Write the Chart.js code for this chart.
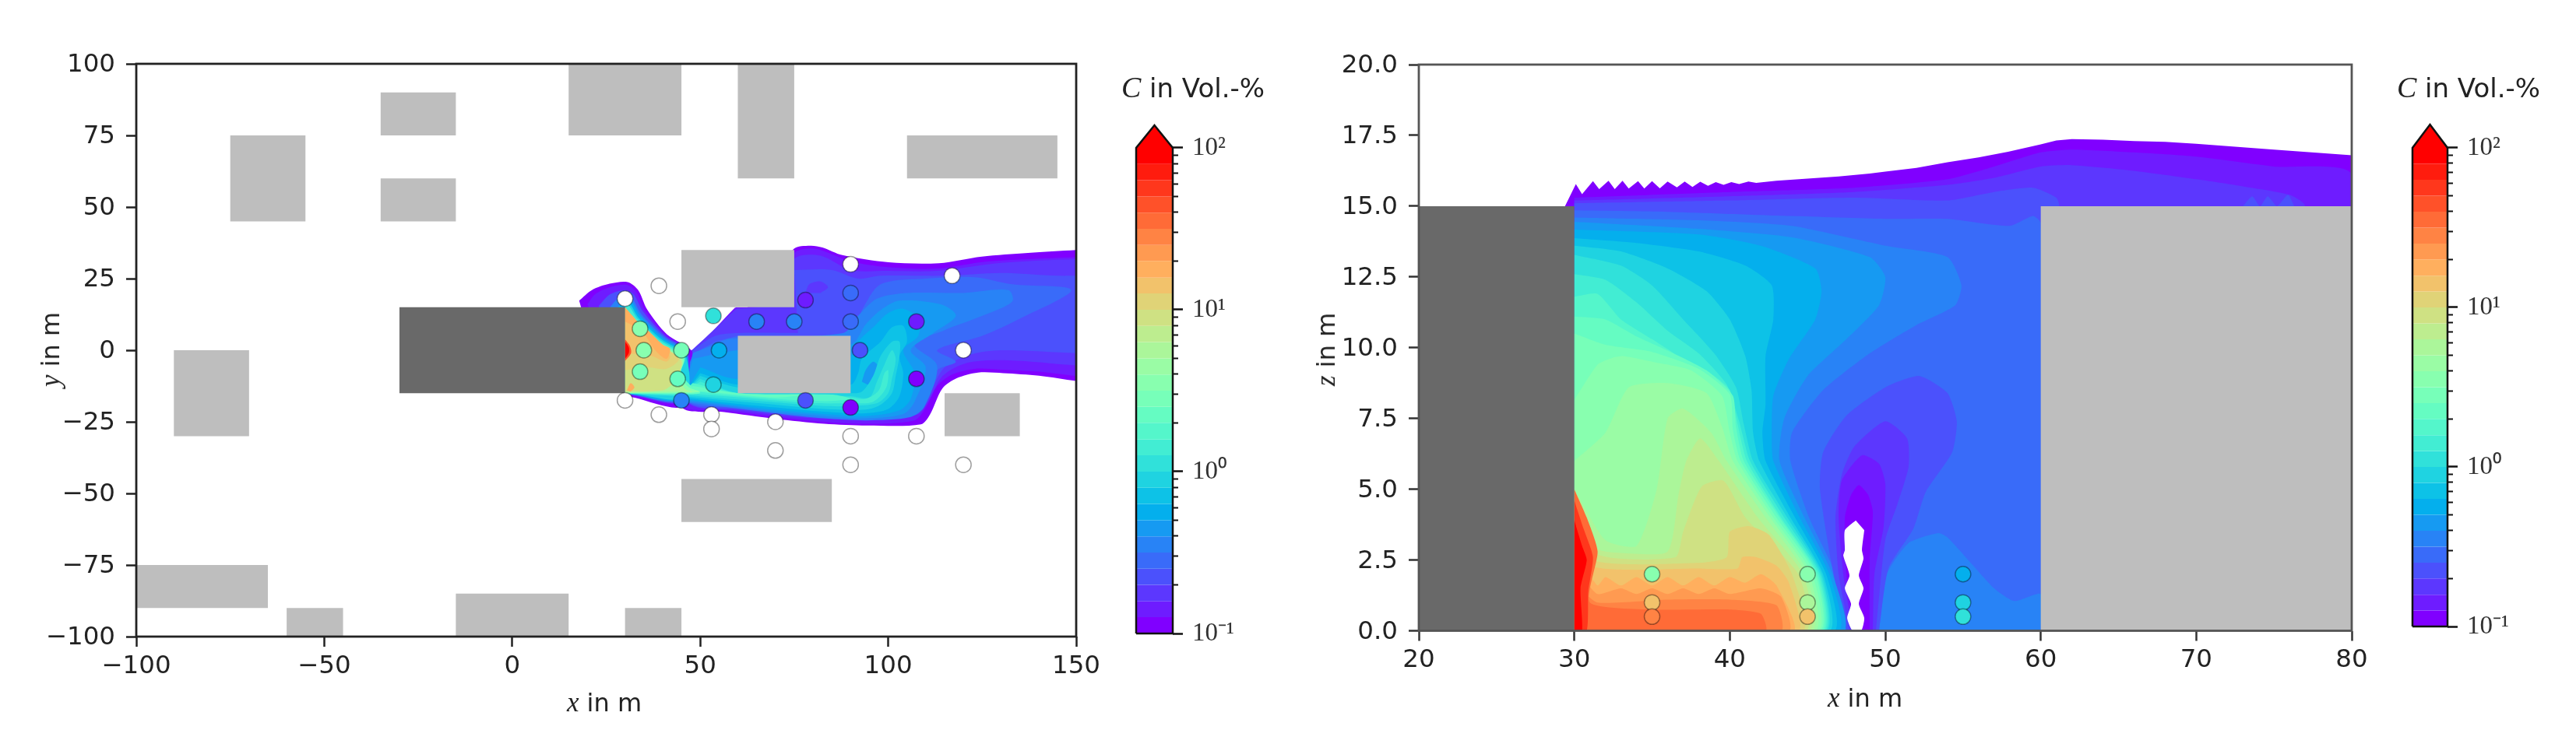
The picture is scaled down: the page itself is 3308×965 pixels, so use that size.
<!DOCTYPE html>
<html>
<head>
<meta charset="utf-8">
<title>C in Vol.-%</title>
<script src="https://cdn.jsdelivr.net/npm/chart.js@4"></script>
<style>
  body { margin: 0; background: #fff; width: 3308px; height: 965px; overflow: hidden; }
  canvas { position: absolute; top: 0; filter: blur(0.7px); }
  .label { position: absolute; font: 32px "DejaVu Sans"; color: #222; white-space: nowrap; transform: translate(-50%, -50%); filter: blur(0.5px); }
  .label i { font-family: "Liberation Serif"; font-size: 35px; }
  .title { font-size: 34px; }
  .title i { font-size: 38px; }
  .rot { transform: translate(-50%, -50%) rotate(-90deg); }
</style>
</head>
<body>
<canvas id="planChart" width="1442" height="965" style="left:0"></canvas>
<canvas id="planBar" width="250" height="965" style="left:1430px"></canvas>
<canvas id="sideChart" width="1370" height="965" style="left:1710px"></canvas>
<canvas id="sideBar" width="238" height="965" style="left:3070px"></canvas>
<div class="label" style="left:776px;top:903px"><i>x</i> in m</div>
<div class="label rot" style="left:65px;top:449px"><i>y</i> in m</div>
<div class="label title" style="left:1532px;top:112px"><i>C</i> in Vol.-%</div>
<div class="label" style="left:2395px;top:897px"><i>x</i> in m</div>
<div class="label rot" style="left:1703px;top:449px"><i>z</i> in m</div>
<div class="label title" style="left:3170px;top:112px"><i>C</i> in Vol.-%</div>
<script>
// contour levels of C in Vol.-%
const levels = [0.1, 0.126, 0.158, 0.2, 0.251, 0.316, 0.398, 0.501, 0.631, 0.794,
  1, 1.26, 1.58, 2, 2.51, 3.16, 3.98, 5.01, 6.31, 7.94,
  10, 12.6, 15.8, 20, 25.1, 31.6, 39.8, 50.1, 63.1, 79.4, 100];
const barMajorTicks = [0.1, 1, 10, 100];
const barMinorTicks = [0.2, 0.3, 0.4, 0.5, 0.6, 0.7, 0.8, 0.9, 2, 3, 4, 5, 6, 7, 8, 9, 20, 30, 40, 50, 60, 70, 80, 90];
const barLabels = ["10⁻¹", "10⁰", "10¹", "10²"];

const planXTicks = [-100, -50, 0, 50, 100, 150];
const planYTicks = [-100, -75, -50, -25, 0, 25, 50, 75, 100];
const sideXTicks = [20, 30, 40, 50, 60, 70, 80];
const sideYTicks = [0, 2.5, 5, 7.5, 10, 12.5, 15, 17.5, 20];

// buildings as [x0, x1, y0, y1]
const planBuildings = [
  [-75, -55, 45, 75], [-35, -15, 75, 90], [-35, -15, 45, 60], [15, 45, 75, 100],
  [60, 75, 60, 100], [105, 145, 60, 75], [-90, -70, -30, 0], [45, 75, 15, 35],
  [60, 90, -15, 5], [115, 135, -30, -15], [45, 85, -60, -45], [-100, -65, -90, -75],
  [-60, -45, -100, -90], [-15, 15, -100, -85], [30, 45, -100, -90]
];
const planEmitter = [-30, 30, -15, 15];
const sideEmitter = [20, 30, 0, 15];
const sideBuilding = [60, 80, 0, 15];

// sensors, C = null means nothing measured there (white)
const planSensorX = [30, 90, 117, 120, 39, 44, 30, 39, 53, 53, 70, 70, 90, 90, 107.5, 120,
  53.5, 34, 35, 45, 34, 44, 45, 53.5, 55, 65, 75, 90, 90, 78, 92.5, 107.5, 107.5, 90, 78];
const planSensorY = [18, 30, 26, 0, 22.5, 10, -17.5, -22.5, -22.5, -27.5, -25, -35, -30, -40, -30, -40,
  12, 7.5, 0, 0, -7.5, -10, -17.5, -12, 0, 10, 10, 10, 20, 17.5, 0, 10, -10, -20, -17.5];
const planSensorC = [null, null, null, null, null, null, null, null, null, null, null, null, null, null, null, null,
  1.05, 3.4, 3.4, 2.8, 3, 2.4, 0.36, 0.8, 0.56, 0.36, 0.36, 0.3, 0.3, 0.15, 0.24, 0.13, 0.1, 0.1, 0.25];
const sideSensorX = [35, 35, 35, 45, 45, 45, 55, 55, 55];
const sideSensorZ = [2, 1, 0.5, 2, 1, 0.5, 2, 1, 0.5];
const sideSensorC = [3.3, 13, 28, 3.4, 6, 14, 0.56, 0.8, 1];

// filled contours painted back to front: [level index, outline points]
// the plume outlines run on past x = 150 so that the smoothing stays off the plot edge
const planContours = [
  [0, [[62, 14], [74.9, 35.4], [79.2, 36.5], [82.5, 35.9], [87.8, 33.2], [100.1, 30.7], [113.5, 30.4], [124.9, 32.7], [137.2, 34], [150, 35], [165, 36], [190, 36], [190, -12], [165, -12.5], [150, -10.7], [140.1, -8.9], [130.6, -8], [123.9, -7.8], [118.2, -9.8], [114.4, -13.4], [111.1, -22.5], [108.7, -25.9], [94.4, -26.3], [83, -25.7], [69.7, -23.9], [56.4, -21.6], [45, -19.8], [45, 0], [47.8, -0.3], [59.2, 14.8]]],
  [1, [[63, 15], [75, 34], [80, 35.5], [85, 33.5], [90, 31], [100, 29], [113, 28.5], [125, 30.8], [137, 31.8], [150, 32.5], [165, 33], [190, 33], [190, -10], [165, -10.5], [150, -9], [140, -7.5], [130, -6.8], [123, -6.5], [117, -8.5], [113, -12.5], [110, -20], [107, -24.5], [94, -25.7], [83, -25], [70, -23.3], [56.4, -21], [45, -19.3], [45, -1], [48, 0], [59.5, 15]]],
  [2, [[65, 15], [75, 32], [82, 33], [90, 28], [100, 27.7], [113, 27.7], [130, 30.5], [150, 31.8], [165, 32], [190, 32], [190, -6], [165, -6.5], [150, -5.3], [132, -3.5], [121, -4.4], [114.5, -9], [110.6, -18], [107.7, -22.5], [94.4, -23.4], [80, -23.8], [60, -21], [47, -18.5], [46, -2], [48.1, 0.4], [59.6, 14.5]]],
  [3, [[75, 28], [85, 28], [92, 25], [98, 26], [115, 26], [130, 27], [145, 26], [150, 26], [165, 26], [190, 26], [190, -1], [165, -1.5], [150, -1], [130, 0], [122, -1.5], [115, -6], [111, -15], [107.5, -21], [94, -22.5], [80, -23], [60, -20.5], [47, -18.4], [46, -3], [48.2, 0], [54, 5], [60, 6], [76, 6]]],
  [2, [[78, 20], [79, 23], [82, 24], [84, 22], [82, 20]]],
  [4, [[60, 5], [90, 6], [93, 14], [98, 23], [110, 25], [123, 25.5], [133, 23], [148.7, 21], [135, 11], [125, 5], [113, 0], [118, -4], [113, -7], [111, -14], [107.3, -21], [94, -22], [80, -22.5], [60, -20], [47, -18], [46, -4], [48, -1.5], [54, 3]]],
  [5, [[48, -1], [52, 1], [58, 4], [88, 6], [92, 12], [97, 18], [105, 20], [120, 20], [132, 21], [133, 17], [125, 12], [115, 7], [107, 2], [113, -5.3], [109.6, -19.8], [105.8, -23.4], [94.4, -24.5], [83, -23.8], [69.7, -22], [56.4, -19.8], [45, -18]]],
  [6, [[48, -3], [60, 0], [90, 2], [94, 9], [98, 14], [103, 17.3], [114, 16], [118, 12], [112, 6], [106, 0], [110, -6], [107, -18], [104, -22.3], [94, -23.8], [83, -23], [70, -21.5], [56.4, -19.2], [45, -17.5]]],
  [7, [[50, -6], [60, -10], [90, -2], [92, 3], [96, 8], [100, 13], [104, 14.5], [108, 11], [108, 5], [104, 0], [107, -8], [106, -17], [103, -21], [94, -23], [83, -22.3], [70, -20.8], [56.4, -18.8], [45, -17]]],
  [8, [[50, -8], [60, -12], [90, -12], [92, -8], [93, -3], [98, 3], [101, 8], [104, 8.5], [105, 3], [103, -2], [104, -8], [103, -16], [100, -20.5], [94, -22], [83, -21.5], [70, -20], [56, -18.2], [45, -16.5]]],
  [6, [[93, -11], [94, -7], [96, -4], [97.5, -6], [96.5, -10], [94.5, -12]]],
  [9, [[50, -9], [60, -13], [90, -15], [93, -14.5], [96, -9], [98, -2], [101, 3], [103, 3], [103, -2], [102, -9], [101, -15], [98, -19], [94, -20.7], [83, -20.5], [70, -19], [56, -17.4], [45, -16]]],
  [10, [[50, -10], [60, -15], [90, -16], [95, -16.5], [97, -11], [99, -5], [101, 0], [102, -3], [101, -10], [100, -15], [97, -18.5], [90, -19.5], [83, -19.5], [70, -18.2], [56, -16.8], [45, -15.5]]],
  [11, [[50, -11], [60, -15], [90, -16.5], [94, -17], [97.5, -14], [99, -8], [100, -7], [99.5, -13], [96, -18], [90, -18.5], [80, -18.5], [70, -17.5], [56, -16], [45, -15]]],
  [12, [[48, -11.5], [60, -15], [85, -15.5], [90, -17], [83, -17.8], [70, -17], [56, -15.5], [46, -14]]],
  [13, [[48, -12.5], [60, -15], [70, -15.5], [78, -15.5], [70, -16.5], [56, -15], [47, -14]]],
  [0, [[17.8, 17.3], [21.2, 21], [25.9, 23.2], [30.7, 23.8], [33.5, 21], [35.9, 14.2], [41.1, 5.6], [47.8, -0.3], [46.9, -5.3], [45.4, -9.8], [45, -19.8], [32.6, -16.6], [30, -15], [18.3, 15]]],
  [1, [[20, 16], [22, 19.5], [26, 22], [30.5, 22.8], [33, 20.3], [35.3, 14], [41, 5.3], [47, -0.5], [44.5, -18], [33, -16.2], [30, -15]]],
  [3, [[23, 15.5], [26, 19.5], [30, 21], [32.3, 19.5], [34.8, 13.5], [40.6, 5], [46.7, -0.8], [44.5, -17.7], [33, -15.9], [30, -15]]],
  [5, [[26, 15], [28, 18], [30.5, 19.7], [32, 18], [34.4, 12.5], [40.4, 4.6], [46.5, -1.2], [44.5, -17.4], [32, -15.5], [30, -15]]],
  [7, [[28, 15], [31, 18], [32, 16.5], [34, 12], [40, 4.2], [46.3, -1.6], [45.5, -17], [32, -15.4], [30, -15]]],
  [9, [[30, 15], [31.3, 16], [33.5, 11.5], [39.7, 3.8], [46.1, -2], [46, -16.5], [32, -15.3], [30, -15]]],
  [11, [[30, 15], [31, 15.5], [33.3, 11], [39.4, 3.4], [45.9, -2.2], [44.8, -8], [46, -12], [48, -14.5], [45, -15.8], [32, -15.2], [30, -15]]],
  [13, [[30, 15], [33, 10.5], [39, 3], [45.7, -2.5], [44.9, -8], [48, -13], [50, -15], [45, -15.3], [30, -15]]],
  [15, [[30, 15], [32.7, 10], [38.7, 2.5], [45.5, -2.8], [44.6, -9], [47, -13], [50, -14.5], [44, -15], [30, -15]]],
  [17, [[30, 15], [32.3, 9.5], [38.4, 2.2], [45.2, -3.2], [44.3, -9.5], [46, -13.5], [48, -14.5], [42, -14.5], [30, -15]]],
  [19, [[30, 15], [32, 9], [38, 2], [44.9, -3.5], [44, -9.5], [42.5, -12], [40, -14], [30, -14.5]]],
  [20, [[30, 15], [31.7, 11], [37.5, 3.5], [44.3, -3], [41, -6.5], [36, -6], [30, -7]]],
  [21, [[30, 15], [32, 10], [37, 3.5], [42, -2], [41, -4], [37, -2], [30, -1]]],
  [22, [[30, 15], [32, 12], [34, 9], [36, 7], [40, 2], [42, 0.5], [41, -3], [38, 0], [35, 6], [33, 8], [30, 10]]],
  [22, [[30.5, -14], [31.5, -11.5], [32.5, -13], [31.5, -14.5]]],
  [26, [[30, 3.8], [31.3, 1.5], [31.6, -1], [30, -3.8]]],
  [29, [[30, 3], [31, 1], [31, -1], [30, -3]]]
];

const sideContours = [
  [0, [[29.4, 15], [30.1, 15.78], [30.5, 15.42], [31.2, 15.88], [31.6, 15.6], [32.2, 15.9], [32.6, 15.6], [33.1, 15.9], [33.5, 15.62], [34.1, 15.88], [34.5, 15.62], [35, 15.88], [35.5, 15.63], [36, 15.87], [36.6, 15.66], [37.1, 15.87], [37.6, 15.68], [38.1, 15.86], [38.6, 15.72], [39.1, 15.85], [39.6, 15.75], [40.1, 15.85], [40.6, 15.78], [41.2, 15.87], [41.7, 15.82], [43, 15.9], [45, 15.97], [47, 16.05], [49, 16.15], [50, 16.22], [52, 16.35], [54, 16.55], [56, 16.72], [57.9, 16.92], [60, 17.18], [61, 17.32], [62, 17.37], [64, 17.35], [66, 17.3], [68, 17.27], [70, 17.2], [75, 17], [80, 16.8], [80, 0], [29.4, 0]]],
  [1, [[30, 15.3], [40, 15.5], [48, 15.65], [54, 15.95], [57, 16.4], [60, 16.9], [62, 17], [66, 16.9], [70, 16.75], [75, 16.4], [80, 16.1], [80, 0], [30, 0]]],
  [2, [[30, 15.2], [40, 15.35], [48, 15.5], [54, 15.75], [57, 16], [60, 16.4], [62, 16.45], [66, 16.25], [70, 15.95], [73, 15.7], [76, 15.4], [77, 15], [77, 0], [30, 0]]],
  [3, [[30, 15.1], [40, 15.2], [48, 15.3], [54, 15.2], [57, 15.5], [59.5, 15.65], [61, 15.3], [61.2, 15], [61.2, 0], [30, 0]]],
  [3, [[73, 15], [73.6, 15.35], [74.1, 15], [74.6, 15.35], [75.2, 15], [75.9, 15.4], [76.3, 15]]],
  [4, [[30, 14.85], [36, 14.8], [44, 14.65], [50, 14.55], [54, 14.55], [58, 14.3], [59.5, 14.65], [60, 14.4], [60, 0], [30, 0]]],
  [5, [[30, 14.6], [38, 14.5], [44, 14.3], [50, 13.6], [54, 13.2], [54.9, 12.2], [54.5, 11.5], [52, 10.8], [49, 9.8], [46, 8.5], [44, 7], [43.9, 6], [45.1, 4], [46.8, 2], [47.6, 0], [30, 0]]],
  [5, [[49.6, 0], [50.1, 2], [51.5, 3.1], [53.4, 3.45], [54, 3.3], [55.5, 2.4], [57, 1.5], [58.3, 1.05], [60, 1.3], [60, 0]]],
  [3, [[47.5, 0], [46.6, 2.2], [45.8, 5], [46, 6.3], [47.5, 7.6], [50, 8.6], [52.2, 9], [54, 8.4], [54.6, 7.4], [54.3, 6.3], [52.6, 4.9], [51.8, 3.6], [50.2, 2.2], [49.6, 0]]],
  [2, [[47.7, 0], [47, 2], [46.8, 4], [47.2, 5.5], [48, 6.5], [50, 7.4], [51.4, 6.8], [51.5, 5.8], [50.8, 4.5], [50, 3.2], [49.4, 0]]],
  [1, [[47.9, 0], [47.3, 2], [47, 4], [47.2, 5.3], [48.5, 6.2], [49.6, 5.9], [50, 5.2], [49.9, 3.7], [49.3, 2], [49.2, 0]]],
  [0, [[48, 0], [47.5, 2], [47.4, 4], [47.8, 4.8], [48.3, 5.15], [48.9, 4.8], [49.2, 4.2], [49, 2.5], [49, 0]]],
  [6, [[30, 14.45], [38, 14.2], [44, 13.9], [49, 13.2], [50, 12.5], [49.6, 11.5], [47.5, 10.3], [45, 9], [43.5, 7.5], [43.2, 6], [44.8, 4], [46.6, 2], [47.3, 0], [30, 0]]],
  [7, [[30, 14.17], [38, 14], [42, 13.6], [45.5, 12.8], [45.9, 12], [45.5, 11], [43.8, 9.6], [42.8, 8.3], [42.7, 7], [42.8, 6], [44.5, 4], [46.4, 2], [47, 0], [30, 0]]],
  [8, [[30, 13.87], [34, 13.7], [38, 13.4], [41, 12.9], [42.7, 12.2], [42.8, 11], [42.3, 9.7], [42.3, 8], [42.1, 7], [42.3, 6], [44.2, 4], [46.2, 2], [46.7, 0], [30, 0]]],
  [9, [[30, 13.6], [33, 13.4], [36, 12.8], [38.5, 12], [40, 11], [41, 9.7], [41.4, 8.5], [41.5, 7], [41.9, 6], [43.9, 4], [46, 2], [46.4, 0], [30, 0]]],
  [10, [[30, 13.28], [33, 12.9], [35, 12.2], [37, 11], [39, 9.8], [40.4, 8.6], [40.9, 7.3], [41.5, 6], [43.7, 4], [45.9, 2], [46.2, 0], [30, 0]]],
  [11, [[30, 12.6], [32, 12.4], [34, 11.6], [36, 10.6], [38, 9.8], [39.8, 8.7], [40.6, 7.4], [41.3, 6], [43.5, 4], [45.8, 2], [46.1, 0], [30, 0]]],
  [12, [[30, 11.8], [31.5, 11.9], [33, 11], [35, 10.3], [37, 9.6], [39, 9], [40, 8.5], [40.5, 7.3], [41.1, 6], [43.3, 4], [45.7, 2], [46, 0], [30, 0]]],
  [13, [[30, 11.1], [32, 11], [34, 10.4], [36, 9.9], [38.5, 9.2], [40.2, 8.3], [40.4, 7.2], [40.9, 6], [43.2, 4], [45.6, 2], [45.9, 0], [30, 0]]],
  [14, [[30, 10.5], [32, 10.1], [35, 9.85], [38, 9.25], [40, 8.35], [40.2, 7.1], [40.7, 6], [43, 4], [45.5, 2], [45.8, 0], [30, 0]]],
  [15, [[30, 8.15], [31.5, 9.4], [32.5, 9.65], [33.2, 9.7], [35.5, 9.45], [37.5, 9.2], [39.5, 8.3], [40, 7], [40.5, 6], [42.8, 4], [45.3, 2], [45.7, 0], [30, 0]]],
  [16, [[30, 6], [32, 7], [33.5, 8.6], [36, 8.75], [38.5, 8.4], [39.5, 7.2], [40.2, 6], [42.6, 4], [45.1, 2], [45.5, 0], [30, 0]]],
  [17, [[30, 5], [32, 3.2], [34, 3], [35.3, 5], [36, 7.5], [37, 7.85], [38.8, 7], [39.8, 6], [42.3, 4], [44.9, 2], [45.3, 0], [30, 0]]],
  [18, [[30, 4.8], [31.5, 2.9], [33, 2.75], [36, 2.8], [36.7, 4.8], [37.2, 6], [38.1, 6.8], [39.3, 6], [41.8, 4], [44.7, 2], [45.1, 0], [30, 0]]],
  [19, [[30, 4.6], [31.5, 2.7], [36.5, 2.6], [37, 3.5], [38.2, 5.1], [39.6, 5.3], [41, 4], [44.4, 2], [44.9, 0], [30, 0]]],
  [20, [[30, 4.4], [31.2, 2.5], [38, 2.4], [39.8, 2.6], [40, 3.5], [41.2, 3.7], [42.5, 3.4], [44, 2], [44.7, 0], [30, 0]]],
  [21, [[30, 4.2], [31, 2.3], [38, 2.2], [40.5, 2.2], [40.8, 2.6], [41.7, 2.6], [43, 2.3], [43.8, 1.7], [44.4, 0], [30, 0]]],
  [22, [[30, 4], [30.8, 2.2], [31.5, 1.6], [32, 1.9], [33, 1.6], [34, 1.9], [35, 1.6], [36, 1.9], [37, 1.6], [38, 1.9], [39, 1.6], [40, 1.9], [41, 1.7], [42, 2], [43, 1.6], [44.1, 0], [30, 0]]],
  [23, [[30, 3.6], [30.6, 1.9], [31.5, 1.3], [33, 1.5], [34, 1.3], [35, 1.5], [36, 1.3], [37, 1.5], [38, 1.3], [39, 1.5], [40, 1.3], [42, 1.5], [43.3, 1.2], [43.8, 0], [30, 0]]],
  [24, [[30, 3.2], [30.5, 1.5], [31.5, 1], [36, 1.1], [40, 1.1], [43, 0.9], [43.3, 0], [30, 0]]],
  [25, [[30, 5], [30.8, 4], [31.5, 2.8], [31, 1], [35, 0.75], [40, 0.75], [42, 0.6], [42.3, 0], [30, 0]]],
  [27, [[30, 4.6], [30.6, 3.6], [31.2, 2.6], [30.9, 1.4], [30.8, 0], [30, 0]]],
  [29, [[30, 3.9], [30.5, 3], [30.8, 2.5], [30.4, 1.5], [30.5, 0], [30, 0]]],
  [-1, [[48.1, 3.9], [47.4, 3.55], [47.4, 2.85], [47.3, 2.65], [47.7, 1.95], [47.4, 1.5], [47.8, 0.95], [47.55, 0.45], [47.9, 0], [48.45, 0], [48.65, 0.45], [48.3, 0.95], [48.6, 1.5], [48.3, 1.95], [48.6, 2.55], [48.5, 2.85], [48.65, 3.55]]]
];

// matplotlib rainbow, one colour per contour band
function bandColor(i) {
  if (i < 0) return "#ffffff";
  const t = i / 29;
  const r = Math.min(1, Math.abs(2 * t - 0.5));
  const g = Math.sin(Math.PI * t);
  const b = Math.cos(Math.PI * t / 2);
  return `rgb(${Math.round(r * 255)},${Math.round(g * 255)},${Math.round(b * 255)})`;
}

function colorOfValue(c) {
  if (c === null) return "#ffffff";
  let i = 0;
  while (i < 29 && c >= levels[i + 1]) i++;
  return bandColor(i);
}

function area(points, color, tension) {
  return {
    data: points.map(p => ({ x: p[0], y: p[1] })),
    showLine: true, fill: "shape", backgroundColor: color,
    borderWidth: 0, pointRadius: 0, tension: tension || 0
  };
}

function boxArea(b, color) {
  return area([[b[0], b[2]], [b[0], b[3]], [b[1], b[3]], [b[1], b[2]]], color);
}

function sensors(xs, ys, cs) {
  return {
    data: xs.map((x, i) => ({ x: x, y: ys[i] })),
    showLine: false, pointRadius: 10, pointBorderWidth: 1.5,
    pointBackgroundColor: cs.map(colorOfValue),
    pointBorderColor: "rgba(0,0,0,0.38)"
  };
}

const frame = {
  id: "frame",
  afterDatasetsDraw(chart, args, opts) {
    const a = chart.chartArea, ctx = chart.ctx;
    ctx.save();
    ctx.strokeStyle = opts.color;
    ctx.lineWidth = 2.8;
    ctx.strokeRect(a.left, a.top, a.right - a.left, a.bottom - a.top);
    ctx.restore();
  }
};

function axis(ticks, min, max, size, format, padding, labelOffset, color) {
  return {
    type: "linear", min: min, max: max,
    afterBuildTicks: s => { s.ticks = ticks.map(v => ({ value: v })); },
    afterFit: s => { if (s.isHorizontal()) s.height = size; else s.width = size; },
    border: { display: false },
    grid: { drawOnChartArea: false, tickLength: 13, tickWidth: 2.5, tickColor: color },
    ticks: {
      autoSkip: false, maxRotation: 0, color: "#222", padding: padding, labelOffset: labelOffset,
      font: { family: "DejaVu Sans", size: 32.5 }, callback: format
    }
  };
}

function panel(id, datasets, xAxis, yAxis, pad, color) {
  new Chart(document.getElementById(id), {
    type: "scatter",
    data: { datasets: datasets.reverse() },
    options: {
      responsive: false, animation: false, layout: { padding: pad },
      plugins: { legend: { display: false }, tooltip: { enabled: false }, frame: { color: color } },
      scales: { x: xAxis, y: yAxis }
    },
    plugins: [frame]
  });
}

const minusSign = v => (v < 0 ? "−" + Math.abs(v) : String(v));

panel("planChart",
  planContours.map(c => area(c[1], bandColor(c[0]), 0.3))
    .concat(planBuildings.map(b => boxArea(b, "#bebebe")))
    .concat([boxArea(planEmitter, "#696969"), sensors(planSensorX, planSensorY, planSensorC)]),
  axis(planXTicks, -100, 150, 147, minusSign, 6, 0, "#222"),
  axis(planYTicks, -100, 100, 175, minusSign, 14, 2, "#222"),
  { left: 0, top: 82, right: 60, bottom: 0 }, "#222");

panel("sideChart",
  sideContours.map(c => area(c[1], bandColor(c[0]), c === sideContours[0] ? 0 : 0.2))
    .concat([boxArea(sideEmitter, "#696969"), boxArea(sideBuilding, "#bebebe"), sensors(sideSensorX, sideSensorZ, sideSensorC)]),
  axis(sideXTicks, 20, 80, 154.5, v => String(v), 6, 0, "#333"),
  axis(sideYTicks, 0, 20, 112, v => v.toFixed(1), 14, 2, "#333"),
  { left: 0, top: 83, right: 60, bottom: 0 }, "#555");

function colorBar(id, max, yWidth, pad) {
  const bands = levels.slice(0, -1).map((lo, i) => boxArea([0, 1, lo, levels[i + 1]], bandColor(i)));
  const tip = area([[0, 100], [0.5, max], [1, 100]], "#ff0000");
  const outline = {
    data: [[0, levels[0]], [0, 100], [0.5, max], [1, 100], [1, levels[0]], [0, levels[0]]].map(p => ({ x: p[0], y: p[1] })),
    showLine: true, fill: false, borderColor: "#111", borderWidth: 2.5, pointRadius: 0, tension: 0, clip: false
  };
  new Chart(document.getElementById(id), {
    type: "scatter",
    data: { datasets: [outline, tip].concat(bands.reverse()) },
    options: {
      responsive: false, animation: false,
      layout: { padding: pad },
      plugins: { legend: { display: false }, tooltip: { enabled: false } },
      scales: {
        x: { type: "linear", min: 0, max: 1, display: false },
        y: {
          type: "logarithmic", position: "right", min: levels[0], max: max,
          afterBuildTicks: s => { s.ticks = barMajorTicks.map(v => ({ value: v })); },
          afterFit: s => { s.width = yWidth; },
          border: { display: false },
          grid: { drawOnChartArea: false, tickLength: 13, tickWidth: 2.5, tickColor: "#111" },
          ticks: {
            autoSkip: false, maxRotation: 0, color: "#333", padding: 12,
            font: { family: "Liberation Serif", size: 33 },
            callback: (v) => barLabels[barMajorTicks.indexOf(v)]
          }
        },
        minor: {
          type: "logarithmic", position: "right", min: levels[0], max: max, weight: -1,
          afterBuildTicks: s => { s.ticks = barMinorTicks.map(v => ({ value: v })); },
          afterFit: s => { s.width = 0; },
          border: { display: false },
          grid: { drawOnChartArea: false, tickLength: 7, tickWidth: 2, tickColor: "#111" },
          ticks: { display: false }
        }
      }
    }
  });
}

colorBar("planBar", 137.8, 154, { left: 29, top: 161, right: 20, bottom: 151 });
colorBar("sideBar", 140, 145, { left: 28, top: 160, right: 20, bottom: 160 });
</script>
</body>
</html>
